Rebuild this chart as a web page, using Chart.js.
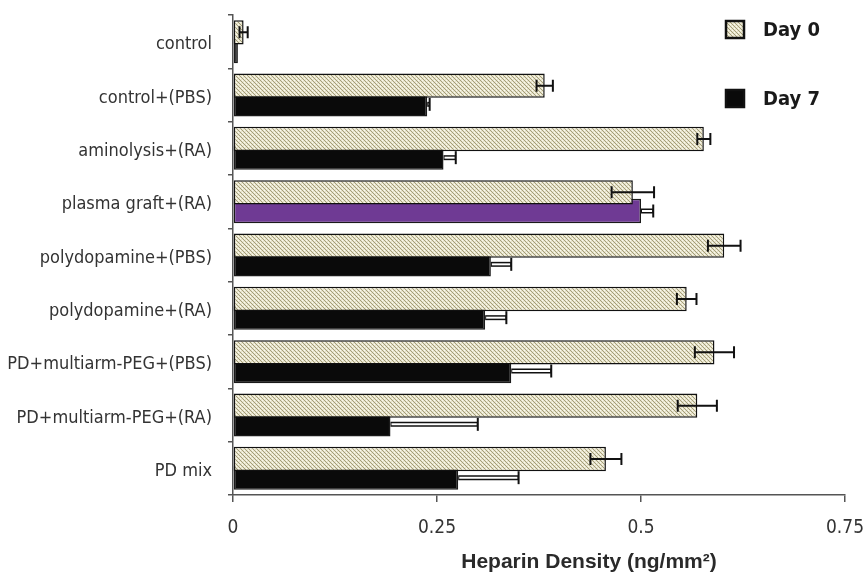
<!DOCTYPE html>
<html>
<head>
<meta charset="utf-8">
<script src="https://cdn.jsdelivr.net/npm/chart.js@4"></script>
<style>
  html, body { margin: 0; padding: 0; background: #fff; }
</style>
</head>
<body>
<canvas id="myChart" width="866" height="577"></canvas>
<script>
const categories = ['control', 'control+(PBS)', 'aminolysis+(RA)', 'plasma graft+(RA)',
  'polydopamine+(PBS)', 'polydopamine+(RA)', 'PD+multiarm-PEG+(PBS)', 'PD+multiarm-PEG+(RA)', 'PD mix'];
const day0 = [0.013, 0.382, 0.577, 0.490, 0.602, 0.556, 0.590, 0.569, 0.457];
const day0Err = [0.005, 0.010, 0.008, 0.026, 0.020, 0.012, 0.024, 0.024, 0.019];
const day7 = [0.006, 0.238, 0.258, 0.500, 0.316, 0.309, 0.341, 0.193, 0.276];
const day7Err = [0, 0.003, 0.015, 0.015, 0.025, 0.026, 0.049, 0.107, 0.074];
const seriesLabels = ['Day 0', 'Day 7'];
const xTicks = [0, 0.25, 0.5, 0.75];
const xTitle = 'Heparin Density (ng/mm²)';
const highlight = 'plasma graft+(RA)';

const cond = "'DejaVu Sans Condensed', 'Liberation Sans', sans-serif";

// hatched fill for the Day 0 bars
function makePattern() {
  const c = document.createElement('canvas');
  c.width = 4; c.height = 4;
  const p = c.getContext('2d');
  p.fillStyle = '#e8e4cc';
  p.fillRect(0, 0, 4, 4);
  p.fillStyle = '#a39d7a';
  for (let i = 0; i < 4; i++) p.fillRect(i, i, 1, 1);
  p.fillStyle = '#faf9ef';
  p.fillRect(2, 0, 1, 1);
  p.fillRect(0, 2, 1, 1);
  return p.createPattern(c, 'repeat');
}
const hatch = makePattern();

const errorBars = {
  id: 'errorBars',
  afterDatasetsDraw(chart) {
    const ctx = chart.ctx;
    const xs = chart.scales.x;
    const errs = [day0Err, day7Err];
    const vals = [day0, day7];
    ctx.save();
    [0, 1].forEach(function (d) {
      chart.getDatasetMeta(d).data.forEach(function (bar, i) {
        const e = errs[d][i];
        if (!e) return;
        const hi = xs.getPixelForValue(vals[d][i] + e);
        const lo = xs.getPixelForValue(vals[d][i] - e);
        const y = bar.y;
        ctx.strokeStyle = '#111';
        if (d === 0) {
          ctx.lineWidth = 2;
          ctx.beginPath();
          ctx.moveTo(lo, y); ctx.lineTo(hi, y);
          ctx.moveTo(lo, y - 6); ctx.lineTo(lo, y + 6);
          ctx.moveTo(hi, y - 6); ctx.lineTo(hi, y + 6);
          ctx.stroke();
        } else {
          ctx.lineWidth = 5;
          ctx.beginPath();
          ctx.moveTo(bar.x, y); ctx.lineTo(hi, y);
          ctx.stroke();
          ctx.strokeStyle = '#fff';
          ctx.lineWidth = 2;
          ctx.beginPath();
          ctx.moveTo(bar.x + 1, y); ctx.lineTo(hi - 1, y);
          ctx.stroke();
          ctx.strokeStyle = '#111';
          ctx.lineWidth = 2;
          ctx.beginPath();
          ctx.moveTo(hi, y - 6.5); ctx.lineTo(hi, y + 6.5);
          ctx.stroke();
        }
      });
    });
    ctx.restore();
  }
};

// legend at the top right and the x title, which sits right of centre
const extras = {
  id: 'extras',
  afterDraw(chart) {
    const ctx = chart.ctx;
    const fills = [hatch, '#0a0a0a'];
    const tops = [20, 89];
    ctx.save();
    chart.data.datasets.forEach(function (ds, i) {
      ctx.fillStyle = fills[i];
      ctx.fillRect(725, tops[i], 20, 19);
      ctx.strokeStyle = '#111';
      ctx.lineWidth = 2.5;
      ctx.strokeRect(726, tops[i] + 1, 18, 17);
      ctx.fillStyle = '#1a1a1a';
      ctx.font = 'bold 20px ' + cond;
      ctx.textBaseline = 'middle';
      ctx.textAlign = 'left';
      ctx.fillText(ds.label, 763, tops[i] + 11);
    });
    ctx.font = "bold 21px 'Liberation Sans', Arial, sans-serif";
    ctx.fillStyle = '#2a2a2a';
    ctx.textAlign = 'center';
    ctx.textBaseline = 'middle';
    ctx.fillText(xTitle, 589, 562);
    ctx.restore();
  }
};

const ctx = document.getElementById('myChart');

new Chart(ctx, {
  type: 'bar',
  data: {
    labels: categories,
    datasets: [{
      label: seriesLabels[0],
      data: day0,
      backgroundColor: hatch,
      borderColor: '#111',
      borderWidth: 1.5,
      borderSkipped: false,
      categoryPercentage: 0.7,
      barPercentage: 1.3
    }, {
      label: seriesLabels[1],
      data: day7,
      backgroundColor: function (c) {
        return categories[c.dataIndex] === highlight ? '#6f3a94' : '#0a0a0a';
      },
      borderColor: '#1a1a1a',
      borderWidth: 1.5,
      borderSkipped: false,
      categoryPercentage: 0.7,
      barPercentage: 1.3
    }]
  },
  options: {
    indexAxis: 'y',
    responsive: false,
    animation: false,
    layout: { padding: { top: 15, right: 21, bottom: 0, left: 0 } },
    plugins: {
      legend: { display: false },
      tooltip: { enabled: false }
    },
    scales: {
      x: {
        min: 0,
        max: 0.75,
        afterBuildTicks: function (s) {
          s.ticks = xTicks.map(function (v) { return { value: v }; });
        },
        afterFit: function (s) { s.height = 82; s.paddingLeft = 0; s.paddingRight = 0; },
        grid: { drawOnChartArea: false, tickLength: 7, color: '#555', lineWidth: 1.5 },
        border: { color: '#555', width: 1.5 },
        ticks: {
          padding: 15,
          color: '#333',
          font: { family: cond, size: 19 },
          callback: function (v) { return String(v); }
        }
      },
      y: {
        afterFit: function (s) { s.width = 233; s.paddingTop = 0; s.paddingBottom = 0; },
        grid: { drawOnChartArea: false, tickLength: 5, color: '#555', lineWidth: 1.5, offset: true },
        border: { color: '#555', width: 1.5 },
        ticks: {
          padding: 16,
          labelOffset: 3,
          color: '#333',
          font: { family: cond, size: 18 }
        }
      }
    }
  },
  plugins: [errorBars, extras]
});
</script>
</body>
</html>
